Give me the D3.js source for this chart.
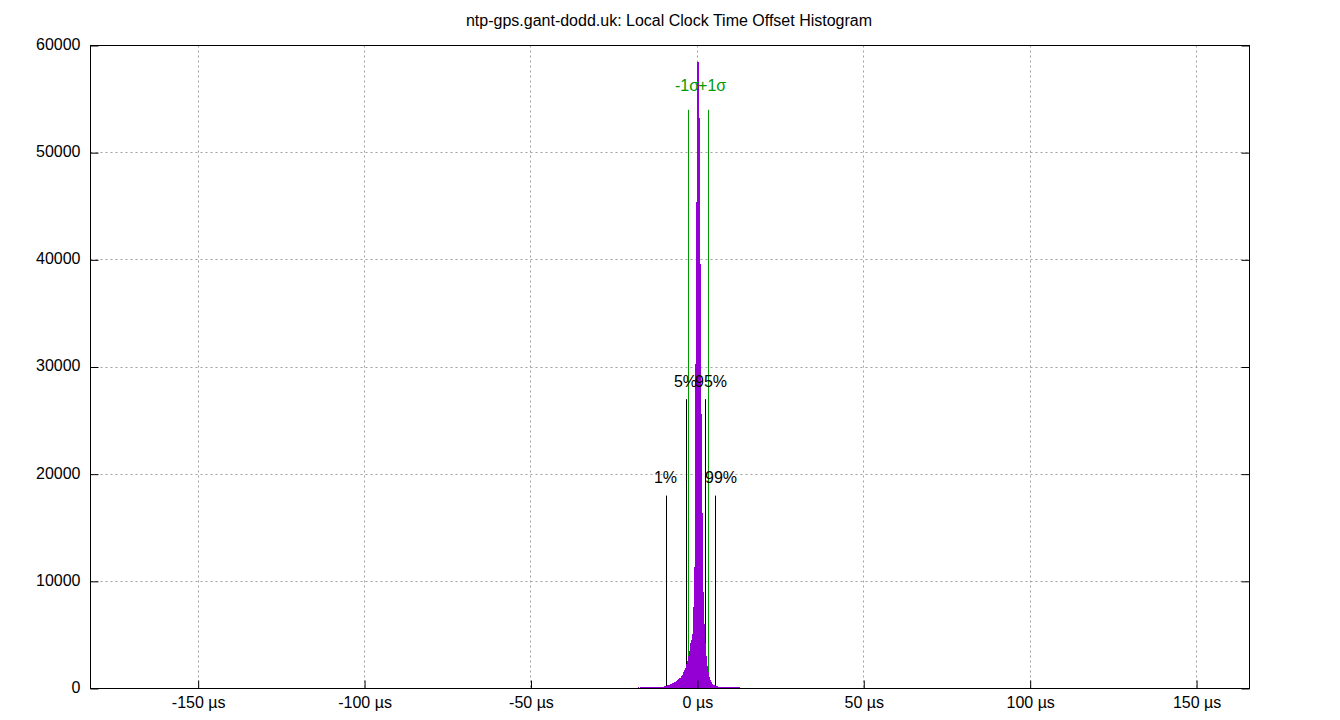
<!DOCTYPE html>
<html>
<head>
<meta charset="utf-8">
<script src="https://cdn.jsdelivr.net/npm/d3@7"></script>
<style>
  html, body { margin: 0; padding: 0; background: #fff; }
  svg { display: block; font-family: "Liberation Sans", Arial, sans-serif; }
</style>
</head>
<body>
<svg id="chart" width="1340" height="720"></svg>
<script>
// ---------------- data ----------------
const title = "ntp-gps.gant-dodd.uk: Local Clock Time Offset Histogram";

// histogram: bins of 0.3 µs starting at binStart (µs)
const binStart = -20.25;
const binWidth = 0.3;
const binCounts = [
  90, 0, 0, 80, 0, 90, 0, 0, 100, 0,
  110, 100, 110, 100, 110, 120, 110, 120, 120, 110,
  120, 130, 120, 130, 130, 110, 120, 120, 130, 140,
  140, 150, 160, 180, 200, 215, 240, 280, 330, 370,
  410, 440, 480, 530, 570, 610, 680, 760, 850, 950,
  1000, 1150, 1300, 1500, 1700, 1950, 2250, 2600, 3000, 3500,
  4200, 4500, 5100, 7560, 11300, 30300, 45400, 58500, 58500, 53200,
  39650, 25650, 16400, 9000, 6000, 4200, 3000, 2100, 1500, 1050,
  780, 600, 450, 360, 300, 250, 210, 190, 175, 165,
  160, 155, 150, 150, 140, 140, 140, 130, 130, 130,
  120, 120, 120, 110, 110, 110, 100, 100, 100, 100,
  90, 0, 90, 0, 80
];

// percentile / sigma markers
const markerNames   = ["1%", "5%", "-1σ", "+1σ", "95%", "99%"];
const markerOffsets = [-9.26, -3.25, -2.65, 3.37, 2.46, 5.47];   // µs
const markerHeights = [18000, 27000, 54000, 54000, 27000, 18000];
const markerKinds   = ["pct", "pct", "sigma", "sigma", "pct", "pct"];

// axes
const xDomain = [-182.35, 165.9];
const yDomain = [0, 60000];
const xTicks = [-150, -100, -50, 0, 50, 100, 150];
const xTickLabels = ["-150 µs", "-100 µs", "-50 µs", "0 µs", "50 µs", "100 µs", "150 µs"];
const yTicks = [0, 10000, 20000, 30000, 40000, 50000, 60000];
const yTickLabels = ["0", "10000", "20000", "30000", "40000", "50000", "60000"];

// ---------------- drawing ----------------
const svg = d3.select("#chart");
const L = 90.5, R = 1249.5, T = 45.5, B = 688.5;
const FONT = 16;

const x = d3.scaleLinear().domain(xDomain).range([L, R]);
const y = d3.scaleLinear().domain(yDomain).range([B, T]);

// title
svg.append("text")
  .attr("x", 669).attr("y", 26)
  .attr("text-anchor", "middle")
  .attr("font-size", FONT)
  .attr("fill", "#000")
  .text(title);

// grid
const grid = svg.append("g").attr("stroke", "#a0a0a0").attr("stroke-width", 1)
  .attr("stroke-dasharray", "2,3").attr("fill", "none");
xTicks.forEach(v => {
  const px = Math.round(x(v) - 0.5) + 0.5;
  grid.append("line").attr("x1", px).attr("x2", px).attr("y1", T).attr("y2", B);
});
yTicks.filter(v => v > yDomain[0] && v < yDomain[1]).forEach(v => {
  const py = Math.round(y(v) - 0.5) + 0.5;
  grid.append("line").attr("x1", L).attr("x2", R).attr("y1", py).attr("y2", py);
});

// marker lines
const green = "#009a00";
const markers = markerNames.map((n, i) => ({
  name: n, v: markerOffsets[i], h: markerHeights[i], kind: markerKinds[i]
}));
const mg = svg.append("g");
markers.forEach(m => {
  const px = Math.round(x(m.v) - 0.5) + 0.5;
  mg.append("line")
    .attr("x1", px).attr("x2", px)
    .attr("y1", B).attr("y2", y(m.h))
    .attr("stroke", m.kind === "sigma" ? green : "#000")
    .attr("stroke-width", 1);
});

// histogram as step area
const pts = binCounts.map((c, i) => ({ x0: binStart + i * binWidth, c }));
pts.push({ x0: binStart + binCounts.length * binWidth, c: 0 });
const area = d3.area()
  .curve(d3.curveStepAfter)
  .x(d => x(d.x0))
  .y0(B)
  .y1(d => y(d.c));
svg.append("path")
  .attr("d", area(pts))
  .attr("fill", "#9400d3")
  .attr("shape-rendering", "crispEdges");

// marker labels
markers.forEach(m => {
  const px = x(m.v);
  const left = m.v < 0;
  const off = m.kind === "sigma" ? 19 : 12.5;
  svg.append("text")
    .attr("x", left ? px + 10.5 : px - 10.5)
    .attr("y", y(m.h) - off)
    .attr("text-anchor", left ? "end" : "start")
    .attr("font-size", FONT)
    .attr("fill", m.kind === "sigma" ? green : "#000")
    .text(m.name);
});

// frame
svg.append("rect")
  .attr("x", L).attr("y", T).attr("width", R - L).attr("height", B - T)
  .attr("fill", "none").attr("stroke", "#000").attr("stroke-width", 1);

// axes
const axL = d3.axisLeft(y).tickValues(yTicks).tickSize(-8).tickPadding(10)
  .tickFormat((d, i) => yTickLabels[i]);
const gL = svg.append("g").attr("transform", `translate(${L},0)`).call(axL);
const axR = d3.axisRight(y).tickValues(yTicks).tickSize(-8).tickFormat("");
const gR = svg.append("g").attr("transform", `translate(${R},0)`).call(axR);
const axB = d3.axisBottom(x).tickValues(xTicks).tickSize(-8).tickPadding(8.5)
  .tickFormat((d, i) => xTickLabels[i]);
const gB = svg.append("g").attr("transform", `translate(0,${B})`).call(axB);

[gL, gR, gB].forEach(g => {
  g.select(".domain").remove();
  g.selectAll("line").attr("stroke", "#000");
  g.selectAll("text").attr("font-size", FONT).attr("fill", "#000")
    .attr("font-family", "'Liberation Sans', Arial, sans-serif");
});
gL.selectAll("text").attr("dy", "0.24em");
</script>
</body>
</html>
